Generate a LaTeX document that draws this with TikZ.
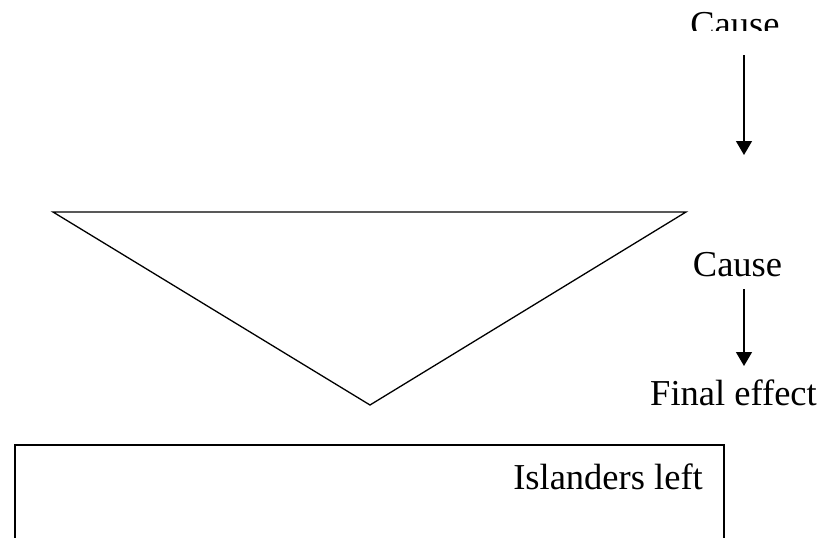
\documentclass[tikz,border=0pt]{standalone}
\usepackage{fontspec}
\setmainfont{Liberation Serif}
\usetikzlibrary{arrows.meta}
\begin{document}
\begin{tikzpicture}[x=1pt,y=-1pt,
  label text/.style={font=\fontsize{36.5}{42}\selectfont, inner sep=0pt, anchor=base},
  flow arrow/.style={line width=1.4pt, -{Triangle[width=16pt,length=14pt]}},
  outline/.style={line width=1.3pt, line join=miter}]
  \useasboundingbox (0,0) rectangle (823,538);
  \clip (0,0) rectangle (823,538);

  % top label, cut off by the upper edge of the frame
  \begin{scope}
    \clip (0,0) rectangle (823,30);
    \node[label text] (cause1) at (735,36) {Cause};
  \end{scope}
  \coordinate (a1start) at (744,55);
  \coordinate (a1end) at (744,155);
  \draw[flow arrow] (a1start) -- (a1end);

  % inverted triangle
  \coordinate (tl) at (53,212);
  \coordinate (tr) at (686,212);
  \coordinate (tb) at (370,405);
  \draw[outline] (tl) -- (tr) -- (tb) -- cycle;

  % second cause and final effect
  \node[label text] (cause2) at (737.5,276) {Cause};
  \coordinate (a2start) at (744,289);
  \coordinate (a2end) at (744,366);
  \draw[flow arrow] (a2start) -- (a2end);
  \node[label text] (final) at (733.5,405) {Final effect};

  % box at the bottom
  \coordinate (bl) at (15,445);
  \coordinate (br) at (724,560);
  \draw[outline] (bl) rectangle (br);
  \node[label text, anchor=base east] (islanders) at (703,489) {Islanders left};
\end{tikzpicture}
\end{document}
